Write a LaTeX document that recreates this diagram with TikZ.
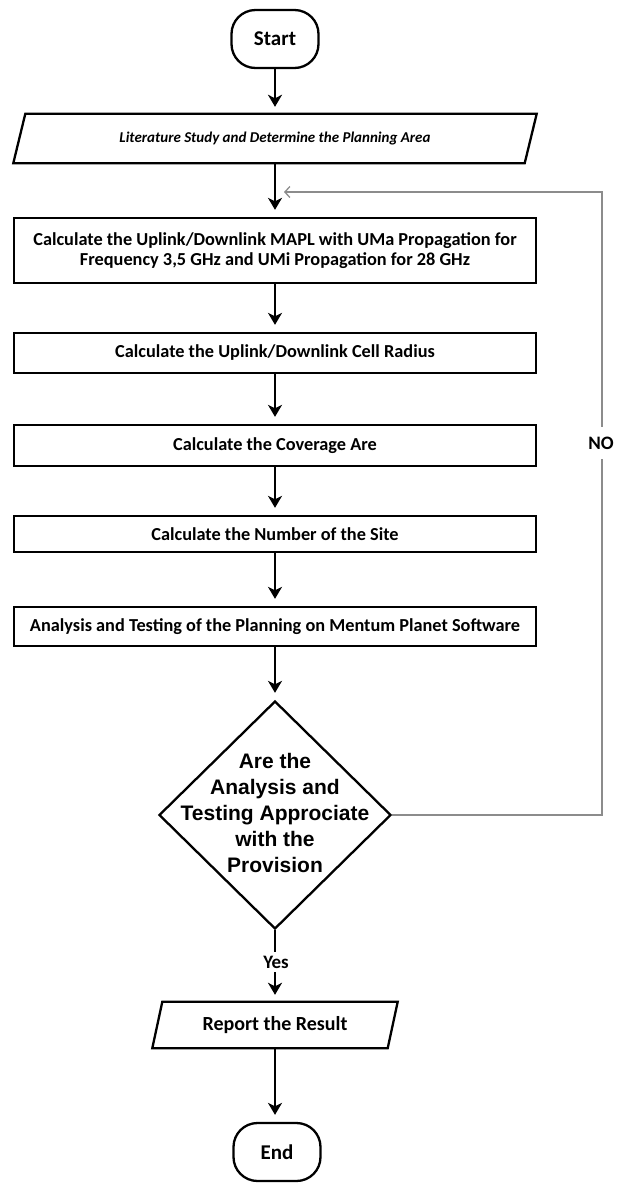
\documentclass[tikz,border=0pt]{standalone}
\usepackage{fontspec}
\setmainfont{Carlito}
\newfontfamily\arialf{Liberation Sans}
\usetikzlibrary{shapes.geometric,arrows.meta}
\begin{document}
\begin{tikzpicture}[x=1pt,y=-1pt,
  procbox/.style={draw,line width=2.3pt,minimum width=522pt,align=center,inner sep=0pt,
    font=\fontsize{18.3}{20}\selectfont\bfseries},
  term/.style={draw,line width=2.3pt,rounded corners=24pt,minimum width=87pt,minimum height=58pt,
    inner sep=0pt,font=\fontsize{21}{24}\selectfont\bfseries},
  paratext/.style={inner sep=0pt,align=center},
  paraline/.style={line width=2.3pt,line join=miter},
  flow/.style={line width=2.4pt,-{Stealth[length=12pt,width=14pt,inset=3.5pt]},shorten >=7pt},
  fb/.style={line width=1.3pt,draw=black!45},
  lbl/.style={fill=white,inner xsep=2pt,inner ysep=10pt,font=\fontsize{19}{21}\selectfont\bfseries}
]
\useasboundingbox (0,0) rectangle (618,1184);

% Start
\node[term] (start) at (275,39) {Start};

% Literature parallelogram
\node[paratext,minimum width=511pt,minimum height=49pt,font=\fontsize{15}{18}\selectfont\bfseries\itshape]
  (lit) at (275,138.5) {Literature Study and Determine the Planning Area};
\draw[paraline] ([xshift=-6pt]lit.south west) -- ([xshift=6pt]lit.north west)
  -- ([xshift=6pt]lit.north east) -- ([xshift=-6pt]lit.south east) -- cycle;

% Process boxes
\node[procbox,minimum height=65pt] (b1) at (275,250.5)
  {Calculate the Uplink/Downlink MAPL with UMa Propagation for\\Frequency 3,5 GHz and UMi Propagation for 28 GHz};
\node[procbox,minimum height=40pt] (b2) at (275,353) {Calculate the Uplink/Downlink Cell Radius};
\node[procbox,minimum height=41pt] (b3) at (275,445.5) {Calculate the Coverage Are};
\node[procbox,minimum height=36pt] (b4) at (275,534) {Calculate the Number of the Site};
\node[procbox,minimum height=39pt] (b5) at (275,626.5) {Analysis and Testing of the Planning on Mentum Planet Software};

% Decision
\node[diamond,draw,line width=2.3pt,minimum width=232pt,minimum height=228pt,inner sep=0pt] (dec) at (275,815) {};
\node[align=center,inner sep=0pt,font=\arialf\fontsize{21}{26}\selectfont\bfseries] (dectxt) at (275,813)
  {Are the\\Analysis and\\Testing Approciate\\with the\\Provision};

% Report parallelogram
\node[paratext,minimum width=235pt,minimum height=46pt,font=\fontsize{20}{22}\selectfont\bfseries]
  (rep) at (275,1025) {Report the Result};
\draw[paraline] ([xshift=-5pt]rep.south west) -- ([xshift=5pt]rep.north west)
  -- ([xshift=5pt]rep.north east) -- ([xshift=-5pt]rep.south east) -- cycle;

% End
\node[term] (end) at (277,1152) {End};

% Flow arrows
\draw[flow] (start.south) -- (start.south |- lit.north);
\draw[flow] (lit.south) -- (b1.north);
\draw[flow] (b1.south) -- (b2.north);
\draw[flow] (b2.south) -- (b3.north);
\draw[flow] (b3.south) -- (b4.north);
\draw[flow] (b4.south) -- (b5.north);
\draw[flow] (b5.south) -- (dec.north);
\draw[flow] (dec.south) -- (rep.north);
\draw[flow] (rep.south) -- (rep.south |- end.north);

% Feedback loop (NO)
\coordinate (fbr) at (602,815);
\coordinate (fbt) at (602,192);
\coordinate (fbend) at (284,192);
\draw[fb,-{Straight Barb[length=5pt,width=11pt]}] (dec.east) -- (fbr) -- (fbt) -- (fbend);
\node[lbl] (no) at (601,443) {NO};
\node[lbl,inner ysep=4pt] (yes) at (276,962) {Yes};
\end{tikzpicture}
\end{document}
